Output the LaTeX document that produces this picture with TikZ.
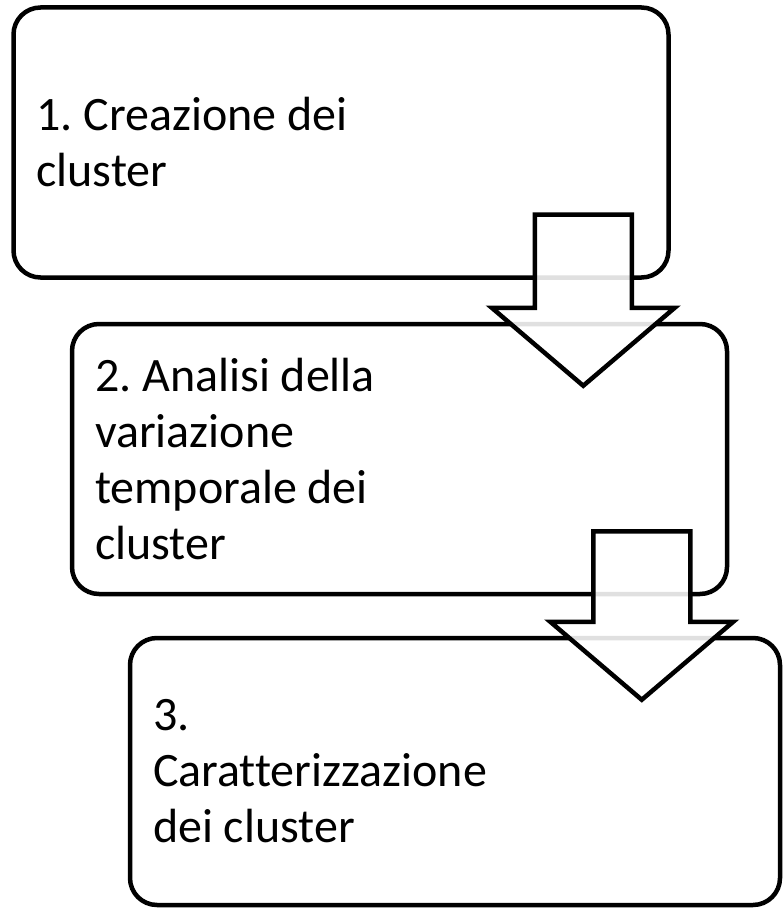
\documentclass[tikz,border=0pt]{standalone}
\usepackage{fontspec}
\setmainfont{Carlito}[Ligatures=NoCommon]
\usetikzlibrary{calc}
\tikzset{
  stepbox/.style={draw, line width=4.5pt, rounded corners=27pt, fill=white,
    minimum width=655pt, minimum height=270pt, text width=609pt,
    inner xsep=23pt, align=flush left, font=\fontsize{48}{56}\selectfont\frenchspacing},
  blockarrow/.style={draw, line width=4.5pt, fill=white, fill opacity=0.88}
}
\begin{document}
\begin{tikzpicture}[x=1pt, y=-1pt]
    \useasboundingbox (0,0) rectangle (782,909);
    % Riquadri
    \node[stepbox] (b1) at (341,142.5) {1. Creazione dei\\cluster};
    \node[stepbox] (b2) at (399.5,459) {2. Analisi della\\variazione\\temporale dei\\cluster};
    \node[stepbox, minimum width=650pt, text width=604pt, minimum height=267pt]
        (b3) at (455,771.5) {3.\\Caratterizzazione\\dei cluster};
    % Frecce
    \foreach \a/\b in {b1/b2, b2/b3} {
        \coordinate (top) at ($(\a.south east)+(-87.5,-65)$);
        \coordinate (tip) at ($(top |- \b.north)+(0,64)$);
        \draw[blockarrow] ($(top)+(-48.5,0)$) -- ($(top)+(48.5,0)$)
            -- ($(tip)+(48.5,-78)$) -- ($(tip)+(91.5,-78)$) -- (tip)
            -- ($(tip)+(-91.5,-78)$) -- ($(tip)+(-48.5,-78)$) -- cycle;
    }
\end{tikzpicture}
\end{document}
